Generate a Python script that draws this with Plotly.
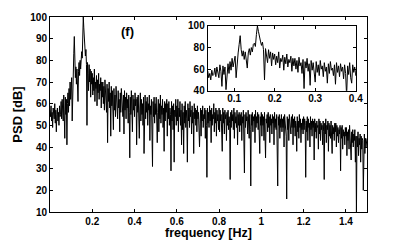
import plotly.graph_objects as go

# frequency bins (Hz), 0.0025 Hz resolution, 0 .. 1.5
F_STEP = 0.0025
N_BINS = 601
freq = [round(i * F_STEP, 4) for i in range(N_BINS)]

# PSD values [dB], one row per 0.05 Hz
psd = [
    57, 54, 59, 52, 56, 49, 58, 55, 53, 60, 51, 57, 47, 55, 58, 52, 56, 50, 59, 54,   # 0.00
    55, 61, 53, 62, 57, 52, 64, 58, 44, 63, 55, 62, 41, 60, 65, 56, 67, 59, 70, 62,   # 0.05
    66, 72, 52, 70, 75, 83, 91, 78, 72, 77, 69, 76, 70, 61, 75, 79, 73, 80, 76, 83,   # 0.10
    84, 81, 92, 100, 95, 89, 86, 82, 85, 78, 50, 79, 74, 66, 78, 70, 76, 63, 75, 69,  # 0.15
    74, 64, 72, 66, 76, 61, 70, 67, 73, 59, 71, 65, 74, 62, 69, 66, 72, 58, 70, 63,   # 0.20
    70, 60, 68, 57, 71, 63, 66, 56, 69, 42, 67, 61, 70, 58, 65, 45, 68, 59, 66, 55,   # 0.25
    48, 67, 57, 64, 54, 68, 60, 63, 53, 66, 58, 62, 47, 65, 56, 67, 59, 61, 54, 64,   # 0.30
    46, 66, 57, 63, 53, 65, 58, 62, 51, 64, 56, 35, 63, 55, 66, 52, 47, 64, 57, 62,   # 0.35
    54, 65, 59, 62, 41, 63, 56, 64, 51, 44, 58, 65, 52, 62, 55, 60, 50, 63, 37, 61,   # 0.40
    64, 53, 61, 56, 63, 50, 60, 57, 64, 43, 59, 55, 62, 49, 31, 61, 54, 63, 51, 60,   # 0.45
    55, 63, 50, 42, 56, 62, 47, 60, 53, 64, 51, 59, 55, 62, 49, 58, 38, 61, 52, 60,   # 0.50
    56, 62, 45, 60, 53, 61, 50, 58, 55, 29, 61, 52, 59, 48, 60, 33, 57, 54, 62, 50,   # 0.55
    59, 52, 62, 47, 58, 54, 61, 50, 57, 41, 60, 48, 56, 37, 59, 51, 61, 49, 57, 53,   # 0.60
    33, 60, 52, 58, 49, 61, 54, 57, 46, 59, 51, 56, 37, 60, 53, 58, 50, 57, 47, 59,   # 0.65
    53, 56, 48, 40, 51, 58, 45, 57, 52, 59, 49, 55, 53, 58, 44, 57, 50, 26, 58, 51,   # 0.70
    56, 49, 59, 52, 57, 42, 58, 50, 55, 53, 60, 47, 56, 51, 58, 45, 57, 52, 55, 48,   # 0.75
    58, 47, 57, 52, 55, 49, 38, 58, 51, 56, 46, 57, 53, 55, 43, 56, 50, 57, 48, 54,   # 0.80
    51, 25, 56, 49, 57, 52, 55, 48, 58, 44, 56, 51, 54, 49, 57, 41, 55, 50, 56, 47,   # 0.85
    55, 50, 56, 43, 54, 51, 57, 46, 28, 55, 49, 56, 52, 54, 46, 57, 50, 44, 55, 48,   # 0.90
    22, 55, 50, 56, 47, 54, 52, 55, 42, 57, 49, 54, 51, 56, 48, 55, 46, 37, 54, 50,   # 0.95
    56, 45, 55, 50, 54, 43, 56, 48, 35, 53, 51, 55, 47, 56, 49, 54, 42, 55, 50, 53,   # 1.00
    46, 55, 51, 54, 41, 56, 49, 53, 48, 55, 45, 22, 54, 50, 55, 44, 53, 49, 55, 47,   # 1.05
    53, 49, 54, 40, 55, 50, 52, 45, 16, 54, 48, 53, 43, 55, 51, 52, 46, 54, 49, 55,   # 1.10
    41, 53, 49, 54, 45, 52, 50, 38, 54, 47, 52, 44, 55, 49, 53, 42, 51, 48, 53, 46,   # 1.15
    54, 48, 53, 50, 26, 52, 47, 54, 43, 53, 49, 51, 40, 54, 48, 52, 45, 53, 49, 52,   # 1.20
    34, 53, 47, 51, 44, 52, 49, 50, 39, 53, 46, 52, 43, 51, 48, 50, 41, 52, 47, 25,   # 1.25
    51, 46, 53, 42, 50, 48, 52, 38, 51, 45, 50, 44, 52, 47, 37, 50, 46, 49, 43, 51,   # 1.30
    47, 51, 40, 50, 45, 49, 42, 48, 46, 50, 29, 49, 44, 50, 39, 48, 45, 47, 41, 49,   # 1.35
    45, 49, 36, 47, 43, 48, 39, 50, 44, 46, 34, 47, 42, 48, 40, 46, 43, 48, 33, 45,   # 1.40
    9, 45, 40, 47, 36, 44, 41, 46, 33, 45, 39, 44, 43, 20, 42, 46, 37, 44, 40, 43,    # 1.45
    44,                                                                               # 1.50
]

main_xticks = [0.2, 0.4, 0.6, 0.8, 1.0, 1.2, 1.4]
main_xtext = ["0.2", "0.4", "0.6", "0.8", "1", "1.2", "1.4"]
main_yticks = [10, 20, 30, 40, 50, 60, 70, 80, 90, 100]
inset_xticks = [0.1, 0.2, 0.3, 0.4]
inset_xtext = ["0.1", "0.2", "0.3", "0.4"]
inset_yticks = [40, 60, 80, 100]

FONT = "Liberation Sans"
tickfont = dict(family=FONT, size=10, color="black", weight="bold")
titlefont = dict(family=FONT, size=13, color="black", weight="bold")
xtitlefont = dict(family=FONT, size=12.5, color="black", weight="bold")

fig = go.Figure()
fig.add_trace(go.Scatter(x=freq, y=psd, mode="lines",
                         line=dict(color="black", width=1.0),
                         xaxis="x", yaxis="y", hoverinfo="skip"))
fig.add_trace(go.Scatter(x=freq, y=psd, mode="lines",
                         line=dict(color="black", width=1.0),
                         xaxis="x2", yaxis="y2", hoverinfo="skip"))

axis_common = dict(showline=True, linecolor="black", linewidth=1,
                   mirror="ticks", ticks="inside", ticklen=3,
                   tickcolor="black", tickwidth=1, showgrid=False,
                   zeroline=False, tickfont=tickfont, automargin=False)

fig.update_layout(
    template="none",
    width=403, height=240,
    margin=dict(l=50, r=36, t=17, b=28, pad=0),
    paper_bgcolor="white", plot_bgcolor="white",
    showlegend=False,
    xaxis=dict(domain=[0, 1], range=[0, 1.5], tickvals=main_xticks,
               ticktext=main_xtext, anchor="y", ticklabelstandoff=0,
               title=dict(text="frequency [Hz]", font=xtitlefont, standoff=5),
               **axis_common),
    yaxis=dict(domain=[0, 1], range=[10, 100], tickvals=main_yticks,
               anchor="x",
               title=dict(text="PSD [dB]", font=titlefont, standoff=4),
               **axis_common),
    xaxis2=dict(domain=[0.4976, 0.9645], range=[0.035, 0.4],
                tickvals=inset_xticks, ticktext=inset_xtext, anchor="y2",
                ticklabelstandoff=-2, **axis_common),
    yaxis2=dict(domain=[0.622, 0.954], range=[40, 100],
                tickvals=inset_yticks, anchor="x2", **axis_common),
    annotations=[dict(text="(f)", x=0.246, y=0.925, xref="paper",
                      yref="paper", xanchor="center", yanchor="middle",
                      showarrow=False, font=titlefont)],
    shapes=[dict(type="rect", xref="x2 domain", yref="y2 domain",
                 x0=0, x1=1, y0=0, y1=1, fillcolor="white",
                 line=dict(width=0), layer="below")],
)

fig.write_html("out.html", config={"displayModeBar": False},
               post_script="document.body.style.margin='0';")
